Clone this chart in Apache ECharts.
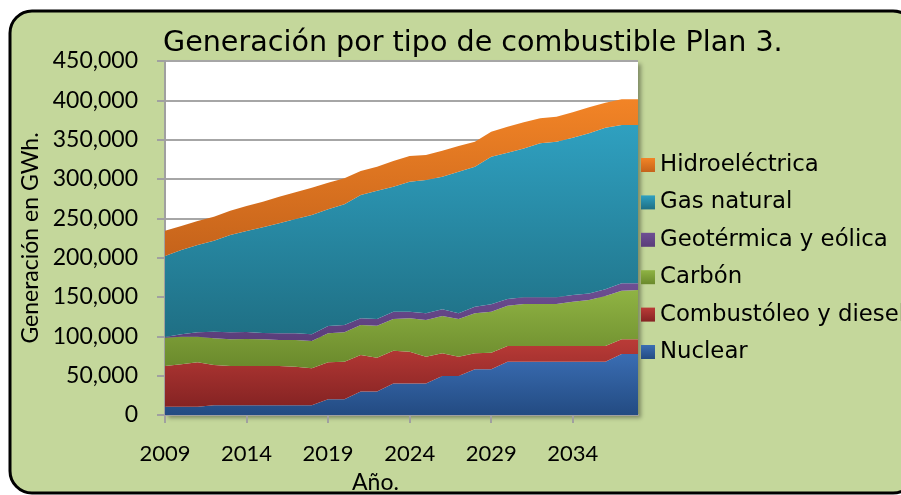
<!DOCTYPE html>
<html>
<head>
<meta charset="utf-8">
<script src="https://cdn.jsdelivr.net/npm/echarts@6/dist/echarts.min.js"></script>
<style>
  body { margin: 0; background: #fff; }
  #chart { width: 901px; height: 495px; }
</style>
</head>
<body>
<div id="chart"></div>
<script>
// años del plan
var years = ['2009','2010','2011','2012','2013','2014','2015','2016','2017','2018',
             '2019','2020','2021','2022','2023','2024','2025','2026','2027','2028',
             '2029','2030','2031','2032','2033','2034','2035','2036','2037','2038'];

// generación en GWh por tipo
var nuclear     = [10500,10500,10500,12300,12300,12300,12300,12300,12300,12300,
                   20000,20000,30000,30000,40000,40000,40000,49600,49600,58000,
                   58000,67800,67800,67800,67800,67800,67800,67800,77500,77500];
var combustoleo = [51800,53900,56500,51200,50000,50000,50000,50000,49100,47000,
                   47000,47800,46300,42900,41800,40500,34100,28800,24500,20400,
                   21200,19900,19900,19900,19900,19900,19900,19900,18700,18700];
var carbon      = [36000,35200,32600,34000,33900,34300,33900,33000,33900,34700,
                   36800,37300,38100,40600,40200,42400,46600,47400,47900,50800,
                   52100,51200,53400,53400,53400,56200,58500,63500,61800,62700];
var geotermica  = [1000,3000,5500,8400,9000,9000,8000,8500,8500,8600,
                   9200,9300,8500,8500,9300,8400,8500,8500,7200,8500,
                   9400,8500,8500,8500,8500,8600,8400,8500,9400,8500];
var gasNatural  = [102800,107100,111000,115600,123600,128300,134400,139800,145300,151600,
                   148400,153400,156700,163100,158900,165200,169500,168600,180000,177900,
                   187600,186000,189300,195700,197800,200000,203400,205500,201200,201200];
var hidro       = [32200,30500,30500,30600,30900,31700,32500,33900,33900,34700,
                   33900,33000,30500,30500,32800,32700,31800,33000,32700,31800,
                   31800,33000,33100,31800,31800,32200,33100,31800,32700,32700];

var chart = echarts.init(document.getElementById('chart'));

function grad(top, bottom) {
    return {
        type: 'linear', x: 0, y: 0, x2: 0, y2: 1,
        colorStops: [{ offset: 0, color: top }, { offset: 1, color: bottom }]
    };
}

function area(name, data, top, bottom) {
    return {
        name: name,
        type: 'line',
        stack: 'total',
        data: data,
        symbol: 'none',
        showSymbol: false,
        lineStyle: { width: 0, opacity: 0 },
        itemStyle: { color: grad(top, bottom) },
        areaStyle: { color: grad(top, bottom), opacity: 1 },
        emphasis: { disabled: true }
    };
}

var axisGray = '#a0a0a0';

var option = {
    animation: false,
    graphic: [{
        type: 'rect',
        z: -10,
        shape: { x: 10, y: 11, width: 905, height: 482, r: 22 },
        style: { fill: '#c4d79b', stroke: '#000', lineWidth: 3 }
    }],
    title: {
        text: 'Generación por tipo de combustible Plan 3.',
        left: 163,
        top: 29,
        padding: 0,
        textStyle: { fontFamily: 'DejaVu Sans', fontSize: 28.6, fontWeight: 'normal', color: '#000' }
    },
    legend: {
        orient: 'vertical',
        left: 636,
        top: 148,
        icon: 'rect',
        itemWidth: 14,
        itemHeight: 14,
        itemGap: 13.4,
        selectedMode: false,
        data: ['Hidroeléctrica', 'Gas natural', 'Geotérmica y eólica', 'Carbón', 'Combustóleo y diesel', 'Nuclear'],
        textStyle: { fontFamily: 'DejaVu Sans', fontSize: 22.8, lineHeight: 24, color: '#000' }
    },
    grid: {
        left: 165, right: 263, top: 61, bottom: 80,
        outerBoundsMode: 'none',
        show: true,
        backgroundColor: '#fff',
        borderWidth: 0,
        shadowColor: 'rgba(0,0,0,0.35)',
        shadowBlur: 4,
        shadowOffsetX: 3,
        shadowOffsetY: 3
    },
    xAxis: {
        type: 'category',
        data: years,
        boundaryGap: false,
        name: 'Año.',
        nameLocation: 'middle',
        nameGap: 56,
        nameMoveOverlap: false,
        nameTextStyle: { fontFamily: 'Lato', fontSize: 23, lineHeight: 23, color: '#000', padding: [0, 52, 0, 0] },
        axisLine: { lineStyle: { color: axisGray, width: 2 } },
        axisTick: { interval: 4, length: 8, lineStyle: { color: axisGray, width: 2 } },
        axisLabel: { interval: 4, margin: 28, fontFamily: 'Lato', fontSize: 22, color: '#000' },
        splitLine: { show: false }
    },
    yAxis: {
        type: 'value',
        min: 0,
        max: 450000,
        interval: 50000,
        name: 'Generación en GWh.',
        nameLocation: 'middle',
        nameGap: 122,
        nameTextStyle: { fontFamily: 'Lato', fontSize: 23, color: '#000' },
        axisLine: { show: true, lineStyle: { color: axisGray, width: 2 } },
        axisTick: { show: true, length: 8, lineStyle: { color: axisGray, width: 2 } },
        axisLabel: {
            margin: 27, fontFamily: 'Lato', fontSize: 23, color: '#000',
            formatter: function (v) { return v.toLocaleString('en-US'); }
        },
        splitLine: { lineStyle: { color: '#a6a6a6', width: 2 } }
    },
    series: [
        area('Nuclear', nuclear, '#3a6db3', '#234b82'),
        area('Combustóleo y diesel', combustoleo, '#ba3b37', '#852323'),
        area('Carbón', carbon, '#8fb343', '#6a892c'),
        area('Geotérmica y eólica', geotermica, '#6e4f93', '#5a3d7a'),
        area('Gas natural', gasNatural, '#2fa0c0', '#1f6f84'),
        area('Hidroeléctrica', hidro, '#f28426', '#c5631b')
    ]
};

chart.setOption(option);
</script>
</body>
</html>
